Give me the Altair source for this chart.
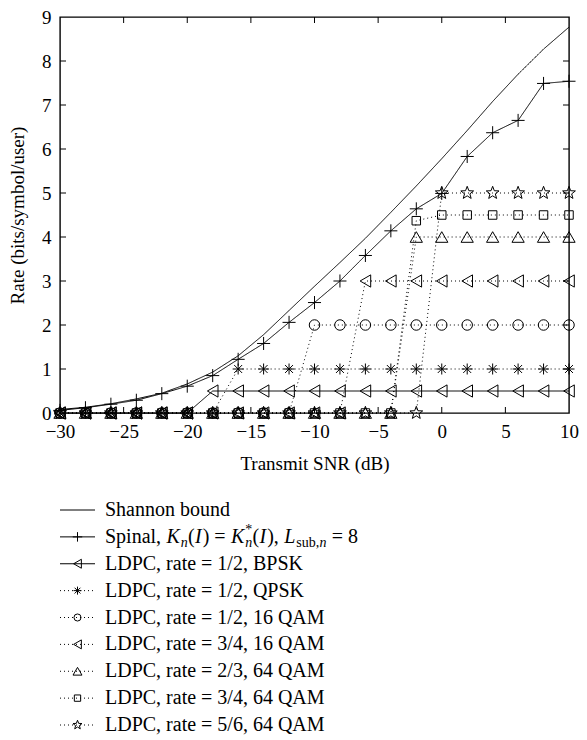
import math
import altair as alt
import pandas as pd

# ---------------- data ----------------
snr = [-30, -28, -26, -24, -22, -20, -18, -16, -14, -12, -10,
       -8, -6, -4, -2, 0, 2, 4, 6, 8, 10]

shannon = [0.08, 0.13, 0.21, 0.32, 0.45, 0.66, 0.93, 1.30, 1.78, 2.33, 2.88,
           3.42, 3.97, 4.56, 5.16, 5.78, 6.42, 7.08, 7.70, 8.27, 8.77]
spinal = [0.06, 0.12, 0.20, 0.29, 0.44, 0.61, 0.85, 1.22, 1.58, 2.06, 2.51,
          3.00, 3.58, 4.14, 4.64, 4.99, 5.83, 6.37, 6.65, 7.49, 7.54]
ldpc_12_bpsk = [0, 0, 0, 0, 0, 0, 0.5, 0.5, 0.5, 0.5, 0.5,
                0.5, 0.5, 0.5, 0.5, 0.5, 0.5, 0.5, 0.5, 0.5, 0.5]
ldpc_12_qpsk = [0, 0, 0, 0, 0, 0, 0, 1, 1, 1, 1,
                1, 1, 1, 1, 1, 1, 1, 1, 1, 1]
ldpc_12_16qam = [0, 0, 0, 0, 0, 0, 0, 0, 0, 0, 2,
                 2, 2, 2, 2, 2, 2, 2, 2, 2, 2]
ldpc_34_16qam = [0, 0, 0, 0, 0, 0, 0, 0, 0, 0, 0,
                 0, 3, 3, 3, 3, 3, 3, 3, 3, 3]
ldpc_23_64qam = [0, 0, 0, 0, 0, 0, 0, 0, 0, 0, 0,
                 0, 0, 0, 4, 4, 4, 4, 4, 4, 4]
ldpc_34_64qam = [0, 0, 0, 0, 0, 0, 0, 0, 0, 0, 0,
                 0, 0, 0, 4.37, 4.5, 4.5, 4.5, 4.5, 4.5, 4.5]
ldpc_56_64qam = [0, 0, 0, 0, 0, 0, 0, 0, 0, 0, 0,
                 0, 0, 0, 0, 5, 5, 5, 5, 5, 5]

names = ["Shannon bound",
         "Spinal",
         "LDPC, rate = 1/2, BPSK",
         "LDPC, rate = 1/2, QPSK",
         "LDPC, rate = 1/2, 16 QAM",
         "LDPC, rate = 3/4, 16 QAM",
         "LDPC, rate = 2/3, 64 QAM",
         "LDPC, rate = 3/4, 64 QAM",
         "LDPC, rate = 5/6, 64 QAM"]
values = [shannon, spinal, ldpc_12_bpsk, ldpc_12_qpsk, ldpc_12_16qam,
          ldpc_34_16qam, ldpc_23_64qam, ldpc_34_64qam, ldpc_56_64qam]

x_ticks = [-30, -25, -20, -15, -10, -5, 0, 5, 10]
y_ticks = [0, 1, 2, 3, 4, 5, 6, 7, 8, 9]

# ---------------- styles ----------------
FONT = "Liberation Serif, Times New Roman, serif"
W, H = 509, 396
LFS = 20  # legend font size


def star_path(n=5, r_out=1.0, r_in=0.42):
    pts = []
    for k in range(2 * n):
        r = r_out if k % 2 == 0 else r_in
        a = math.radians(-90 + k * 180 / n)
        pts.append(f"{r*math.cos(a):.3f},{r*math.sin(a):.3f}")
    return "M" + "L".join(pts) + "Z"


PLUS = "M-1,0L1,0M0,-1L0,1"
ASTER = "M0,-1L0,1M-1,0L1,0M-0.72,-0.72L0.72,0.72M-0.72,0.72L0.72,-0.72"
STAR = star_path()

marker_names = names[1:]
shapes = [PLUS, "triangle-left", ASTER, "circle", "triangle-left",
          "triangle-up", "square", STAR]
sizes_plot = [170, 150, 121, 110, 150, 150, 72, 180]
sizes_leg = [90, 80, 64, 50, 80, 80, 40, 90]
dashes = [[1, 0], [1, 0], [1, 0], [1, 3], [1, 3], [1, 3], [1, 3], [1, 3], [1, 3]]

rows = []
for nm, vals in zip(names, values):
    for xv, yv in zip(snr, vals):
        rows.append({"series": nm, "snr": xv, "rate": yv})
df = pd.DataFrame(rows)

x_scale = alt.Scale(domain=[-30, 10], nice=False, zero=False)
y_scale = alt.Scale(domain=[0, 9], nice=False, zero=False)
dash_scale = alt.Scale(domain=names, range=dashes)

x_axis = alt.Axis(values=x_ticks, tickSize=0, domain=False, grid=False,
                  title="Transmit SNR (dB)", labelFlush=False,
                  labelPadding=9, titleY=50, titleBaseline="middle")
y_axis = alt.Axis(values=y_ticks, tickSize=0, domain=False, grid=False,
                  title="Rate (bits/symbol/user)", labelPadding=9,
                  titleX=-43, titleY=H / 2, titleBaseline="middle",
                  titleAngle=270)

lines = alt.Chart(df).mark_line(color="black", strokeWidth=1).encode(
    x=alt.X("snr:Q", scale=x_scale, axis=x_axis),
    y=alt.Y("rate:Q", scale=y_scale, axis=y_axis),
    detail="series:N",
    strokeDash=alt.StrokeDash("series:N", scale=dash_scale, legend=None),
)

point_layers = []
for nm, shp, sz in zip(marker_names, shapes, sizes_plot):
    point_layers.append(
        alt.Chart(df).transform_filter(alt.datum.series == nm)
        .mark_point(filled=False, color="black", strokeWidth=1, opacity=1,
                    shape=shp, size=sz)
        .encode(x=alt.X("snr:Q", scale=x_scale), y=alt.Y("rate:Q", scale=y_scale))
    )

# inward ticks
xt = pd.DataFrame({"snr": x_ticks[1:-1]})
yt = pd.DataFrame({"rate": y_ticks[1:-1]})
TL = 6
tick_b = alt.Chart(xt).mark_rule(color="black", strokeWidth=1).encode(
    x=alt.X("snr:Q", scale=x_scale), y=alt.value(H), y2=alt.value(H - TL))
tick_t = alt.Chart(xt).mark_rule(color="black", strokeWidth=1).encode(
    x=alt.X("snr:Q", scale=x_scale), y=alt.value(0), y2=alt.value(TL))
tick_l = alt.Chart(yt).mark_rule(color="black", strokeWidth=1).encode(
    y=alt.Y("rate:Q", scale=y_scale), x=alt.value(0), x2=alt.value(TL))
tick_r = alt.Chart(yt).mark_rule(color="black", strokeWidth=1).encode(
    y=alt.Y("rate:Q", scale=y_scale), x=alt.value(W), x2=alt.value(W - TL))

main = alt.layer(lines, *point_layers, tick_b, tick_t, tick_l, tick_r)

# ---------------- legend ----------------
leg = pd.DataFrame({"series": names, "row": list(range(len(names))),
                    "label": [n if i != 1 else "" for i, n in enumerate(names)]})
leg_y = alt.Y("row:Q", scale=alt.Scale(domain=[0, 8], range=[493, 708]), axis=None)

leg_rule = alt.Chart(leg).mark_rule(color="black", strokeWidth=1).encode(
    x=alt.value(0), x2=alt.value(35), y=leg_y,
    strokeDash=alt.StrokeDash("series:N", scale=dash_scale, legend=None))
leg_point_layers = []
for nm, shp, sz in zip(marker_names, shapes, sizes_leg):
    leg_point_layers.append(
        alt.Chart(leg).transform_filter(alt.datum.series == nm)
        .mark_point(filled=False, color="black", strokeWidth=1, opacity=1,
                    shape=shp, size=sz)
        .encode(x=alt.value(17.5), y=leg_y)
    )
leg_text = alt.Chart(leg).mark_text(align="left", baseline="middle", font=FONT,
                                    fontSize=LFS, color="black").encode(
    x=alt.value(45), y=leg_y, text="label:N")

# Spinal label with italic / sub / superscripts
roman_w = {'S': 556, 'p': 500, 'i': 278, 'n': 500, 'a': 444, 'l': 278, ',': 250,
           ' ': 250, '(': 333, ')': 333, '=': 564, '8': 500, 's': 389, 'u': 500,
           'b': 500, '*': 500}
ital_w = {'K': 667, 'I': 333, 'L': 556, 'n': 500}
SM = 0.7
segs = [("Spinal, ", False, 1, 0, True),
        ("K", True, 1, 0, True), ("n", True, SM, 6, True),
        ("(", False, 1, 0, True), ("I", True, 1, 0, True), (") = ", False, 1, 0, True),
        ("K", True, 1, 0, True), ("*", False, SM, -7, False), ("n", True, SM, 6, True),
        ("(", False, 1, 0, True), ("I", True, 1, 0, True), ("), ", False, 1, 0, True),
        ("L", True, 1, 0, True), ("sub,", False, SM, 6, True), ("n", True, SM, 6, True),
        (" = 8", False, 1, 0, True)]
spinal_layers = []
cx = 45.0
one = pd.DataFrame({"row": [1]})
for txt, it, sc, dy, adv in segs:
    fs = LFS * sc
    tbl = ital_w if it else roman_w
    wdt = sum(tbl.get(c, 500) for c in txt) * fs / 1000.0
    lead = (len(txt) - len(txt.lstrip(" "))) * roman_w[' '] * fs / 1000.0
    spinal_layers.append(
        alt.Chart(one).mark_text(text=txt.strip(" "), align="left", baseline="middle",
                                 font=FONT, fontSize=fs, dy=dy, color="black",
                                 fontStyle="italic" if it else "normal").encode(
            x=alt.value(cx + lead), y=leg_y))
    if adv:
        cx += wdt + (1.0 if it and sc == 1 else 0.3)

legend = alt.layer(leg_rule, *leg_point_layers, leg_text, *spinal_layers)

chart = alt.layer(main, legend).resolve_scale(
    y="independent"
).properties(
    width=W, height=H,
    autosize=alt.AutoSizeParams(type="none"),
    padding={"left": 52, "top": 9, "right": 10, "bottom": 322},
).configure_view(
    stroke="black", strokeWidth=1.4
).configure_axis(
    labelFont=FONT, labelFontSize=19, labelColor="black",
    titleFont=FONT, titleFontSize=19, titleColor="black", titleFontWeight="normal",
)

chart.save("out.html", embed_options={"renderer": "svg", "actions": False})
